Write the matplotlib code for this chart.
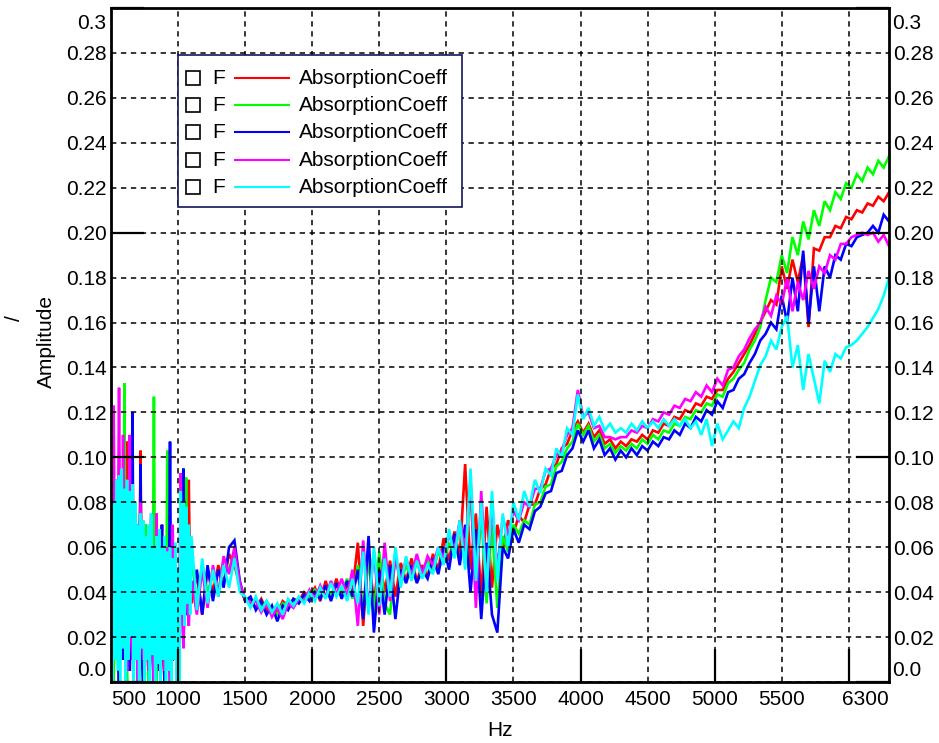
import numpy as np
import matplotlib
matplotlib.use('Agg')
import matplotlib.pyplot as plt
from matplotlib.patches import Rectangle

plt.rcParams['font.family'] = ['Liberation Sans', 'DejaVu Sans']
plt.rcParams['font.size'] = 15

# frequency grid: 10 Hz steps up to 1100 Hz, 40 Hz steps above
freq = np.concatenate([np.arange(500, 1101, 10), np.arange(1140, 6301, 40)])

red = [0.06, 0.03, 0.02, 0.05, 0.07, 0.02, 0.0, 0.04, 0.085, 0.03,
       0.01, 0.045, 0.107, 0.02, 0.005, 0.05, 0.08, 0.02, 0.015, 0.04,
       0.06, 0.025, 0.103, 0.03, 0.0, 0.045, 0.07, 0.02, 0.01, 0.05,
       0.065, 0.015, 0.0, 0.04, 0.06, 0.02, 0.01, 0.045, 0.07, 0.01,
       0.0, 0.04, 0.065, 0.02, 0.015, 0.035, 0.05, 0.02, 0.04, 0.01,
       0.0, 0.03, 0.06, 0.04, 0.02, 0.035, 0.05, 0.06, 0.09, 0.04, 0.035,
       0.048, 0.03, 0.05, 0.04, 0.052, 0.044, 0.057, 0.052, 0.043, 0.036,
       0.037, 0.033, 0.037, 0.032, 0.033, 0.031, 0.036, 0.034, 0.037, 0.036,
       0.04, 0.038, 0.042, 0.036, 0.045, 0.037, 0.046, 0.038, 0.043, 0.04,
       0.062, 0.025, 0.058, 0.035, 0.056, 0.04, 0.054, 0.038, 0.053, 0.045,
       0.055, 0.045, 0.052, 0.047, 0.057, 0.05, 0.064, 0.054, 0.067, 0.056,
       0.097, 0.05, 0.075, 0.038, 0.078, 0.042, 0.07, 0.058, 0.072, 0.066,
       0.074, 0.071, 0.079, 0.079, 0.086, 0.088, 0.095, 0.097, 0.104, 0.106,
       0.112, 0.116, 0.111, 0.115, 0.109, 0.112, 0.106, 0.108, 0.104, 0.107,
       0.105, 0.108, 0.107, 0.11, 0.108, 0.112, 0.111, 0.115, 0.114, 0.118,
       0.117, 0.121, 0.12, 0.124, 0.123, 0.127, 0.126, 0.13, 0.13, 0.135,
       0.138, 0.142, 0.146, 0.15, 0.155, 0.16, 0.165, 0.17, 0.168, 0.185,
       0.175, 0.188, 0.178, 0.19, 0.158, 0.193, 0.192, 0.198, 0.198, 0.203,
       0.202, 0.207, 0.206, 0.21, 0.209, 0.213, 0.212, 0.216, 0.214, 0.218]

green = [0.05, 0.02, 0.0, 0.04, 0.06, 0.03, 0.015, 0.05, 0.07, 0.02,
         0.133, 0.01, 0.0, 0.045, 0.06, 0.02, 0.02, 0.05, 0.075, 0.015,
         0.005, 0.04, 0.06, 0.02, 0.01, 0.05, 0.07, 0.015, 0.0, 0.04,
         0.055, 0.02, 0.127, 0.01, 0.0, 0.04, 0.06, 0.015, 0.01, 0.045,
         0.05, 0.02, 0.103, 0.01, 0.0, 0.04, 0.06, 0.02, 0.045, 0.01,
         0.0, 0.03, 0.05, 0.035, 0.07, 0.04, 0.091, 0.03, 0.03, 0.045, 0.055,
         0.035, 0.052, 0.04, 0.048, 0.04, 0.055, 0.05, 0.058, 0.042, 0.037,
         0.034, 0.037, 0.033, 0.036, 0.032, 0.03, 0.035, 0.034, 0.036, 0.035,
         0.038, 0.037, 0.041, 0.038, 0.042, 0.039, 0.043, 0.04, 0.046, 0.037,
         0.052, 0.032, 0.055, 0.03, 0.058, 0.035, 0.03, 0.056, 0.044, 0.052,
         0.046, 0.053, 0.047, 0.055, 0.049, 0.058, 0.053, 0.062, 0.056, 0.07,
         0.055, 0.085, 0.042, 0.075, 0.035, 0.07, 0.033, 0.065, 0.058, 0.07,
         0.066, 0.072, 0.07, 0.079, 0.08, 0.087, 0.088, 0.096, 0.098, 0.104,
         0.107, 0.115, 0.11, 0.114, 0.107, 0.11, 0.104, 0.106, 0.102, 0.105,
         0.103, 0.106, 0.104, 0.108, 0.106, 0.11, 0.108, 0.112, 0.111, 0.115,
         0.114, 0.118, 0.117, 0.121, 0.12, 0.124, 0.123, 0.128, 0.127, 0.133,
         0.135, 0.139, 0.142, 0.148, 0.152, 0.158, 0.17, 0.18, 0.178, 0.19,
         0.182, 0.198, 0.19, 0.205, 0.197, 0.21, 0.203, 0.214, 0.21, 0.218,
         0.215, 0.222, 0.22, 0.226, 0.223, 0.229, 0.226, 0.232, 0.229, 0.234]

blue = [0.112, 0.03, 0.01, 0.06, 0.09, 0.02, 0.0, 0.05, 0.075, 0.01,
        0.02, 0.04, 0.08, 0.015, 0.005, 0.05, 0.12, 0.02, 0.01, 0.045,
        0.07, 0.02, 0.097, 0.01, 0.0, 0.04, 0.065, 0.02, 0.015, 0.05,
        0.075, 0.01, 0.0, 0.045, 0.065, 0.02, 0.005, 0.05, 0.07, 0.015,
        0.0, 0.04, 0.06, 0.02, 0.107, 0.01, 0.01, 0.04, 0.05, 0.02,
        0.0, 0.04, 0.06, 0.045, 0.095, 0.04, 0.03, 0.06, 0.05, 0.045, 0.04,
        0.05, 0.03, 0.052, 0.036, 0.05, 0.042, 0.06, 0.063, 0.045, 0.036,
        0.038, 0.032, 0.036, 0.03, 0.034, 0.027, 0.034, 0.032, 0.037, 0.035,
        0.039, 0.036, 0.04, 0.037, 0.043, 0.036, 0.044, 0.037, 0.045, 0.038,
        0.05, 0.028, 0.065, 0.022, 0.05, 0.03, 0.052, 0.028, 0.05, 0.044,
        0.052, 0.044, 0.05, 0.046, 0.055, 0.048, 0.06, 0.05, 0.066, 0.052,
        0.07, 0.04, 0.068, 0.028, 0.062, 0.03, 0.022, 0.06, 0.055, 0.068,
        0.062, 0.07, 0.068, 0.076, 0.078, 0.084, 0.085, 0.093, 0.094, 0.101,
        0.104, 0.112, 0.107, 0.112, 0.104, 0.108, 0.101, 0.104, 0.099, 0.103,
        0.1, 0.104, 0.101, 0.105, 0.103, 0.107, 0.105, 0.109, 0.108, 0.112,
        0.11, 0.115, 0.113, 0.118, 0.116, 0.121, 0.119, 0.125, 0.122, 0.129,
        0.13, 0.135, 0.137, 0.142, 0.146, 0.152, 0.155, 0.16, 0.157, 0.172,
        0.16, 0.18, 0.165, 0.192, 0.16, 0.185, 0.165, 0.185, 0.18, 0.19,
        0.188, 0.195, 0.194, 0.198, 0.199, 0.2, 0.203, 0.2, 0.208, 0.205]

magenta = [0.04, 0.02, 0.123, 0.03, 0.02, 0.05, 0.131, 0.04, 0.03, 0.11,
           0.06, 0.02, 0.005, 0.04, 0.11, 0.02, 0.01, 0.05, 0.07, 0.02,
           0.0, 0.04, 0.08, 0.02, 0.01, 0.045, 0.06, 0.015, 0.005, 0.05,
           0.07, 0.02, 0.0, 0.04, 0.075, 0.02, 0.01, 0.045, 0.06, 0.015,
           0.005, 0.04, 0.06, 0.02, 0.0, 0.045, 0.07, 0.02, 0.05, 0.02,
           0.0, 0.04, 0.093, 0.03, 0.015, 0.04, 0.06, 0.035, 0.025, 0.04, 0.045,
           0.03, 0.05, 0.033, 0.052, 0.038, 0.056, 0.048, 0.06, 0.044, 0.037,
           0.035, 0.036, 0.031, 0.035, 0.029, 0.033, 0.028, 0.035, 0.033, 0.037,
           0.036, 0.041, 0.037, 0.043, 0.038, 0.045, 0.039, 0.046, 0.038, 0.05,
           0.025, 0.063, 0.032, 0.058, 0.03, 0.062, 0.036, 0.055, 0.045, 0.055,
           0.047, 0.057, 0.048, 0.056, 0.052, 0.06, 0.055, 0.066, 0.058, 0.072,
           0.058, 0.09, 0.033, 0.085, 0.04, 0.08, 0.05, 0.073, 0.065, 0.076,
           0.072, 0.08, 0.078, 0.086, 0.086, 0.094, 0.095, 0.101, 0.103, 0.11,
           0.113, 0.13, 0.118, 0.12, 0.113, 0.114, 0.109, 0.109, 0.108, 0.109,
           0.109, 0.112, 0.111, 0.114, 0.113, 0.117, 0.116, 0.12, 0.119, 0.123,
           0.122, 0.126, 0.125, 0.129, 0.127, 0.132, 0.129, 0.135, 0.132, 0.139,
           0.14, 0.145, 0.148, 0.153, 0.157, 0.16, 0.167, 0.163, 0.172, 0.168,
           0.18, 0.165, 0.178, 0.17, 0.183, 0.175, 0.185, 0.182, 0.19, 0.188,
           0.195, 0.195, 0.198, 0.199, 0.2, 0.199, 0.2, 0.196, 0.199, 0.194]

cyan = [0.07, 0.0, 0.08, 0.01, 0.09, 0.005, 0.092, 0.0, 0.095, 0.015,
        0.086, 0.0, 0.09, 0.01, 0.085, 0.02, 0.088, 0.0, 0.08, 0.01,
        0.07, 0.0, 0.075, 0.015, 0.072, 0.0, 0.065, 0.01, 0.07, 0.0,
        0.075, 0.012, 0.06, 0.0, 0.065, 0.008, 0.068, 0.0, 0.06, 0.01,
        0.065, 0.0, 0.058, 0.005, 0.06, 0.0, 0.055, 0.01, 0.062, 0.0,
        0.05, 0.0, 0.085, 0.03, 0.08, 0.025, 0.078, 0.035, 0.07, 0.03, 0.065,
        0.032, 0.055, 0.035, 0.05, 0.038, 0.052, 0.042, 0.055, 0.04, 0.038,
        0.033, 0.038, 0.032, 0.036, 0.031, 0.035, 0.03, 0.037, 0.034, 0.038,
        0.035, 0.04, 0.036, 0.042, 0.037, 0.044, 0.038, 0.043, 0.036, 0.046,
        0.035, 0.058, 0.03, 0.06, 0.034, 0.055, 0.038, 0.06, 0.042, 0.056,
        0.045, 0.054, 0.046, 0.052, 0.048, 0.06, 0.052, 0.068, 0.055, 0.072,
        0.05, 0.095, 0.045, 0.08, 0.04, 0.085, 0.045, 0.075, 0.06, 0.08,
        0.072, 0.085, 0.078, 0.09, 0.084, 0.095, 0.092, 0.104, 0.1, 0.113,
        0.11, 0.128, 0.117, 0.122, 0.114, 0.118, 0.112, 0.115, 0.111, 0.113,
        0.111, 0.115, 0.112, 0.116, 0.113, 0.116, 0.113, 0.117, 0.114, 0.117,
        0.114, 0.117, 0.113, 0.116, 0.11, 0.117, 0.105, 0.115, 0.108, 0.112,
        0.116, 0.113, 0.122, 0.127, 0.134, 0.141, 0.145, 0.152, 0.148, 0.158,
        0.163, 0.14, 0.15, 0.13, 0.146, 0.135, 0.124, 0.143, 0.138, 0.146,
        0.144, 0.149, 0.15, 0.152, 0.155, 0.158, 0.162, 0.166, 0.172, 0.18]

series = [red, green, blue, magenta, cyan]
colors = ['#ff0000', '#00ff00', '#0000ff', '#ff00ff', '#00ffff']
label = 'AbsorptionCoeff'

x_major = [1000, 2000, 3000, 4000, 5000, 6000]
x_major_labels = ['1000', '2000', '3000', '4000', '5000', '']
x_minor = [1500, 2500, 3500, 4500, 5500]
y_major = [0.0, 0.1, 0.2, 0.3]
y_major_labels = ['', '0.10', '0.20', '']
y_minor = [0.02, 0.04, 0.06, 0.08, 0.12, 0.14, 0.16, 0.18, 0.22, 0.24, 0.26, 0.28]

fig = plt.figure(figsize=(9.39, 7.43), dpi=100)
ax = fig.add_axes([0.1182, 0.0821, 0.8286, 0.9071])

for ys, c in zip(series, colors):
    ax.plot(freq, ys, color=c, lw=1.9, solid_joinstyle='miter')

ax.set_xlim(500, 6300)
ax.set_ylim(0, 0.3)

ax.set_xticks(x_major, labels=x_major_labels)
ax.set_xticks(x_minor, labels=[str(v) for v in x_minor], minor=True)
ax.set_yticks(y_major, labels=y_major_labels)
ax.set_yticks(y_minor, labels=['%.2f' % v for v in y_minor], minor=True)

ax.tick_params(which='major', direction='in', length=24, width=1.6)
ax.tick_params(which='minor', length=0)
ax.tick_params(axis='x', which='both', pad=6, labelsize=15)
ax.tick_params(axis='y', which='both', left=True, right=True,
               labelleft=True, labelright=True, pad=3, labelsize=15)

ax.set_axisbelow(False)
ax.grid(which='both', color='black', linestyle=(0, (3.5, 3)), linewidth=1.1)
for s in ax.spines.values():
    s.set_linewidth(2.0)

# end labels sit inside the axis limits
ax.annotate('500', xy=(500, 0), xytext=(0, -6), textcoords='offset points',
            ha='left', va='top', fontsize=15)
ax.annotate('6300', xy=(6300, 0), xytext=(0, -6), textcoords='offset points',
            ha='right', va='top', fontsize=15)
for xa, ha, dx in [(0, 'right', -3.5), (1, 'left', 2.5)]:
    ax.annotate('0.0', xy=(xa, 0.0), xycoords=('axes fraction', 'data'),
                xytext=(dx, 8.5), textcoords='offset points',
                ha=ha, va='center', fontsize=15)
    ax.annotate('0.3', xy=(xa, 0.3), xycoords=('axes fraction', 'data'),
                xytext=(dx, -11), textcoords='offset points',
                ha=ha, va='center', fontsize=15)

fig.text(500 / 939, 1 - 731 / 743, 'Hz', ha='center', va='center', fontsize=15)
fig.text(46 / 939, 1 - 341 / 743, 'Amplitude', rotation=90,
         ha='center', va='center', fontsize=15)
fig.text(15 / 939, 1 - 318 / 743, '/', rotation=90,
         ha='center', va='center', fontsize=15)

# legend box
ax.add_patch(Rectangle((0.0861, 0.7047), 0.3651, 0.2256, transform=ax.transAxes,
                       facecolor='white', edgecolor='#14145a', lw=1.2, zorder=5))
rows = [0.8961, 0.8561, 0.816, 0.7745, 0.7344]
for y, c in zip(rows, colors):
    ax.plot([0.106], [y], marker='s', ms=10.5, mfc='white', mec='black', mew=1.2,
            transform=ax.transAxes, zorder=6, clip_on=False)
    ax.text(0.1298, y, 'F', transform=ax.transAxes, va='center', ha='left',
            fontsize=15, zorder=6)
    ax.plot([0.1594, 0.2288], [y, y], color=c, lw=1.5,
            transform=ax.transAxes, zorder=6)
    ax.text(0.2416, y, label, transform=ax.transAxes, va='center', ha='left',
            fontsize=15, zorder=6)

fig.savefig('out.png', dpi=100)
